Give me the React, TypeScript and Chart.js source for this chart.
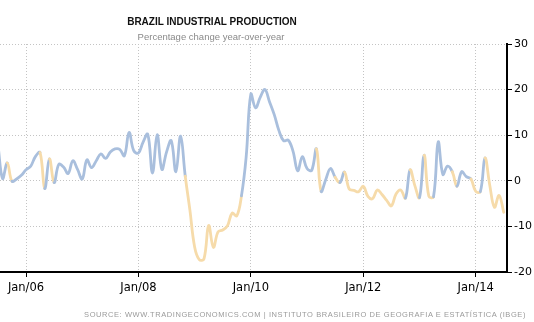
import React, { useEffect, useRef } from "react";
import { Chart, registerables } from "chart.js";

Chart.register(...registerables);

// Series: Brazil industrial production, % change y/y, monthly from Jun 2005 to Jun 2014
const startYear = 2005;
const startMonth = 6; // June
const values: number[] = [
  // 2005 Jun-Dec
  8.0, 0.5, 3.9, -0.1, 0.4, 1.2, 2.4,
  // 2006
  3.2, 5.3, 6.2, -1.7, 4.8, -0.4, 3.6, 3.0, 1.6, 4.4, 2.5, 0.4,
  // 2007
  4.6, 2.9, 4.4, 5.9, 4.9, 6.3, 7.0, 6.9, 5.5, 10.6, 6.6, 6.1,
  // 2008
  8.5, 10.2, 1.7, 10.1, 2.5, 6.3, 8.8, 2.0, 9.8, 1.0, -6.5, -14.5,
  // 2009
  -17.3, -17.1, -9.8, -14.6, -11.2, -10.8, -9.9, -7.1, -7.7, -3.3, 5.2, 19.0,
  // 2010
  16.0, 18.3, 20.0, 17.3, 14.5, 11.0, 8.8, 8.9, 6.5, 2.2, 5.3, 2.7,
  // 2011
  2.3, 7.0, -2.3, 0.3, 2.7, 0.8, -0.4, 1.9, -1.8, -2.1, -2.4, -1.2,
  // 2012
  -3.4, -3.9, -2.0, -3.0, -4.3, -5.5, -2.9, -2.0, -3.8, 2.4, -1.0, -3.7,
  // 2013
  5.6, -3.4, -3.5, 8.5, 1.4, 3.2, 2.0, -1.2, 2.0, 0.9, 0.4, -2.3,
  // 2014 Jan-Jun
  -2.4, 5.0, -0.9, -5.8, -3.2, -6.9,
];

const tickYears: number[] = [2006, 2008, 2010, 2012, 2014];
const tickLabels: string[] = ["Jan/06", "Jan/08", "Jan/10", "Jan/12", "Jan/14"];
const yTicks: number[] = [-20, -10, 0, 10, 20, 30];

const titleText = "BRAZIL INDUSTRIAL PRODUCTION";
const subtitleText = "Percentage change year-over-year";
const sourceText =
  "SOURCE: WWW.TRADINGECONOMICS.COM | INSTITUTO BRASILEIRO DE GEOGRAFIA E ESTATÍSTICA (IBGE)";

const BLUE = "#a9bfdd";
const ORANGE = "#f6dbaa";

// x position: months since Jan 2005, a month plotted at its end
const monthX = (i: number) => (startMonth - 1) + i + 1;
const yearX = (y: number) => (y - startYear) * 12;

export default function App() {
  const ref = useRef<HTMLCanvasElement | null>(null);

  useEffect(() => {
    if (!ref.current) return;
    const points = values.map((v, i) => ({ x: monthX(i), y: v }));
    const gridOpts = {
      color: "#c4c4c4",
      lineWidth: 1,
      tickColor: "#000",
      tickLength: 5,
      tickBorderDash: [],
      tickWidth: 1,
    };
    const chart = new Chart(ref.current, {
      type: "line",
      data: {
        datasets: [
          {
            data: points,
            borderColor: BLUE,
            borderWidth: 2.8,
            pointRadius: 0,
            tension: 0.4,
            fill: false,
            clip: 0,
            borderCapStyle: "round",
            borderJoinStyle: "round",
            segment: {
              borderColor: (ctx: any) => (ctx.p1.parsed.y < 0 ? ORANGE : BLUE),
            },
          },
        ],
      },
      options: {
        responsive: false,
        animation: false,
        devicePixelRatio: 1,
        layout: { padding: { top: 44, left: 0, right: 0, bottom: 0 } },
        plugins: {
          legend: { display: false },
          tooltip: { enabled: false },
          title: { display: false },
        },
        scales: {
          x: {
            type: "linear",
            min: 6.449,
            max: 114.69,
            afterBuildTicks: (scale: any) => {
              scale.ticks = tickYears.map((y) => ({ value: yearX(y) }));
            },
            afterFit: (scale: any) => {
              scale.height = 50;
            },
            ticks: {
              autoSkip: false,
              maxRotation: 0,
              color: "#000",
              padding: 4,
              font: { family: "DejaVu Sans", size: 11.5 },
              callback: (_v: any, idx: number) => tickLabels[idx],
            },
            grid: gridOpts,
            border: { display: true, color: "#000", width: 2, dash: [1, 2] },
          },
          y: {
            position: "right",
            min: -20,
            max: 30,
            afterBuildTicks: (scale: any) => {
              scale.ticks = yTicks.map((v) => ({ value: v }));
            },
            afterFit: (scale: any) => {
              scale.width = 27;
            },
            ticks: {
              color: "#000",
              padding: 2,
              font: { family: "DejaVu Sans", size: 11 },
            },
            grid: gridOpts,
            border: { display: true, color: "#000", width: 2, dash: [1, 2] },
          },
        },
      },
    });
    return () => chart.destroy();
  }, []);

  return (
    <div
      style={{
        position: "fixed",
        left: 0,
        top: 0,
        width: 534,
        height: 322,
        background: "#fff",
        overflow: "hidden",
      }}
    >
      <canvas ref={ref} width={534} height={322} style={{ position: "absolute", left: 0, top: 0 }} />
      <div
        style={{
          position: "absolute",
          left: 112,
          width: 200,
          top: 15,
          textAlign: "center",
          fontFamily: "'Liberation Sans', Arial, sans-serif",
          fontWeight: "bold",
          fontSize: 10,
          color: "#111",
          whiteSpace: "nowrap",
          lineHeight: "14px",
        }}
      >
        {titleText}
      </div>
      <div
        style={{
          position: "absolute",
          left: 111,
          width: 200,
          top: 31,
          textAlign: "center",
          fontFamily: "'Liberation Sans', Arial, sans-serif",
          fontSize: 9.5,
          color: "#8a8a8a",
          whiteSpace: "nowrap",
          lineHeight: "12px",
        }}
      >
        {subtitleText}
      </div>
      <div
        style={{
          position: "absolute",
          right: 8,
          top: 309,
          fontFamily: "'Liberation Sans', Arial, sans-serif",
          fontSize: 7.5,
          letterSpacing: "0.57px",
          color: "#9a9a9a",
          whiteSpace: "nowrap",
          lineHeight: "11px",
        }}
      >
        {sourceText}
      </div>
    </div>
  );
}
